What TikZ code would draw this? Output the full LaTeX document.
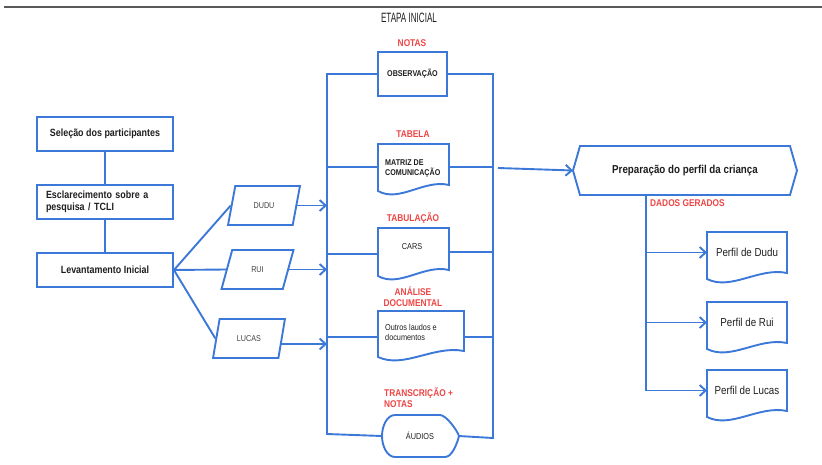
\documentclass[tikz,border=0pt]{standalone}
\usepackage{fontspec}
\setmainfont{Liberation Sans}[FakeStretch=0.85]
\usetikzlibrary{arrows.meta,calc,shapes.geometric}
\definecolor{lineblue}{RGB}{60,120,216}
\definecolor{labelred}{RGB}{238,68,68}
\definecolor{txt}{RGB}{30,30,30}
\newcommand\docoutline[3]{\draw[line,shift={(#1.center)}] (-#2,-#3) -- (#2,-#3) -- (#2,#3) .. controls ({0.3*#2},{#3-6}) and ({-0.4*#2},{#3+18}) .. (-#2,{#3+6}) -- cycle;}
\begin{document}
\begin{tikzpicture}[x=1pt,y=-1pt,
  line/.style={draw=lineblue,line width=1.9pt},
  arr/.style={line,-{Straight Barb[length=6pt,width=11pt]}},
  stepbox/.style={draw=lineblue,line width=1.9pt,minimum width=136pt,minimum height=34pt,inner sep=0pt,text=txt,font=\fontsize{10.5}{11.5}\selectfont\bfseries},
  para/.style={trapezium,trapezium left angle=66,trapezium right angle=114,trapezium stretches=true,draw=lineblue,line width=1.9pt,minimum width=72pt,minimum height=39pt,inner sep=0pt,text=txt!85,font=\fontsize{8.5}{10}\selectfont},
  area/.style={inner sep=0pt,outer sep=0pt},
  midtxt/.style={inner sep=0pt,text=txt,font=\fontsize{8.4}{10}\selectfont\bfseries,align=left},
  smalltxt/.style={inner sep=0pt,text=txt,font=\fontsize{8.6}{10}\selectfont,align=left},
  redlbl/.style={inner sep=0pt,text=labelred,font=\fontsize{9.8}{11}\selectfont\bfseries,align=center},
  perfil/.style={area,minimum width=80pt,minimum height=41pt,text=txt,font=\fontsize{11.5}{13}\selectfont},
]
\useasboundingbox (0,0) rectangle (822,465);
\draw[draw=black!65,line width=1.3pt] (4,7) -- (822,7);
\node[inner sep=0pt,text=txt,font=\fontsize{13.5}{15}\selectfont\addfontfeatures{FakeStretch=0.6}] (title) at (409,18) {ETAPA INICIAL};

% left column
\node[stepbox] (b1) at (105,134) {Seleção dos participantes};
\node[stepbox,align=left,text width=118pt] (b2) at (105,202) {Esclarecimento sobre a\\pesquisa / TCLI};
\node[stepbox] (b3) at (105,270) {Levantamento Inicial};
\draw[line] (b1) -- (b2);
\draw[line] (b2) -- (b3);

% participants
\node[para] (dudu) at (264,205.5) {DUDU};
\node[para] (rui) at (257.5,269.5) {RUI};
\node[para] (lucas) at (249,338.5) {LUCAS};
\draw[line] (b3.east) -- (dudu.west);
\draw[line] (b3.east) -- (rui.west);
\draw[line] (b3.east) -- (lucas.west);

\coordinate (busl) at (327,0);
\coordinate (busr) at (493,0);
\coordinate (lucasout) at ($(lucas.east)+(-2,5.5)$);
\draw[arr] (dudu.east) -- (dudu.east -| busl);
\draw[arr] (rui.east) -- (rui.east -| busl);
\draw[arr] (lucasout) -- (lucasout -| busl);

% middle column
\node[redlbl] (lnotas) at (412,43) {NOTAS};
\node[area,draw=lineblue,line width=1.9pt,minimum width=69pt,minimum height=44pt,midtxt,align=center] (obs) at (412.5,74) {OBSERVAÇÃO};

\node[redlbl] (ltabela) at (413,134) {TABELA};
\node[area,minimum width=71pt,minimum height=41pt] (matriz) at (413.5,164.5) {};
\docoutline{matriz}{35.5}{20.5}
\node[midtxt,anchor=west] (matriztxt) at ($(matriz.west)+(7,3.5)$) {MATRIZ DE\\COMUNICAÇÃO};

\node[redlbl] (ltab) at (413,218) {TABULAÇÃO};
\node[area,minimum width=71pt,minimum height=42pt] (cars) at (413.5,249) {};
\docoutline{cars}{35.5}{21}
\node[smalltxt] (carstxt) at ($(cars.center)+(-1.5,-2)$) {CARS};

\node[redlbl] (lanal) at (413,296.5) {ANÁLISE\\DOCUMENTAL};
\node[area,minimum width=86pt,minimum height=40pt] (outros) at (421,331) {};
\docoutline{outros}{43}{20}
\node[smalltxt,anchor=west] (outrostxt) at ($(outros.west)+(7,1)$) {Outros laudos e\\documentos};

\node[redlbl,align=left,anchor=west] (ltrans) at (384,398) {TRANSCRIÇÃO +\\NOTAS};
\node[area,minimum width=77pt,minimum height=42pt,smalltxt] (audios) at (420,436) {ÁUDIOS};
\draw[line,shift={(audios.center)}] (-25,-21) -- (20,-21) .. controls (26,-21) and (37,-6) .. (39,0) .. controls (37,8) and (32,21) .. (25,21) -- (-25,21) .. controls (-33,21) and (-38,10) .. (-38,0) .. controls (-38,-10) and (-33,-21) .. (-25,-21) -- cycle;

% buses
\coordinate (lbot) at (327,434);
\coordinate (rbot) at (493,438);
\draw[line] (obs.west) -| (lbot) -- (audios.west);
\draw[line] (obs.east) -| (rbot) -- (audios.east);
\coordinate (mw) at ($(matriz.west)+(0,2.5)$);
\coordinate (me) at ($(matriz.east)+(0,2.5)$);
\coordinate (cw) at ($(cars.west)+(0,5)$);
\coordinate (ce) at ($(cars.east)+(0,3)$);
\coordinate (ow) at ($(outros.west)+(0,6)$);
\coordinate (oe) at ($(outros.east)+(0,6)$);
\draw[line] (mw -| busl) -- (mw);
\draw[line] (me) -- (me -| busr);
\draw[line] (cw -| busl) -- (cw);
\draw[line] (ce) -- (ce -| busr);
\draw[line] (ow -| busl) -- (ow);
\draw[line] (oe) -- (oe -| busr);

% preparation
\node[area,minimum width=224pt,minimum height=49pt,text=txt,font=\fontsize{11.5}{13}\selectfont\bfseries] (prep) at (685,170.5) {Preparação do perfil da criança};
\draw[line,shift={(prep.center)}] (-105,-24.5) -- (105,-24.5) -- (112,0) -- (105,24.5) -- (-105,24.5) -- (-112,0) -- cycle;
\coordinate (gap) at (498,168);
\draw[arr] (gap) -- (prep.west);

\node[redlbl,anchor=west] (ldados) at (650,203) {DADOS GERADOS};
\coordinate (pbus) at (646,0);
\node[perfil] (pd) at (747,252.5) {Perfil de Dudu};
\docoutline{pd}{40}{20.5}
\node[perfil] (pr) at (747,322.5) {Perfil de Rui};
\docoutline{pr}{40}{20.5}
\node[perfil] (pl) at (747,390.5) {Perfil de Lucas};
\docoutline{pl}{40}{20.5}
\draw[line] (prep.south -| pbus) -- (pl.west -| pbus);
\draw[arr] (pd.west -| pbus) -- (pd.west);
\draw[arr] (pr.west -| pbus) -- (pr.west);
\draw[arr] (pl.west -| pbus) -- (pl.west);
\end{tikzpicture}
\end{document}
